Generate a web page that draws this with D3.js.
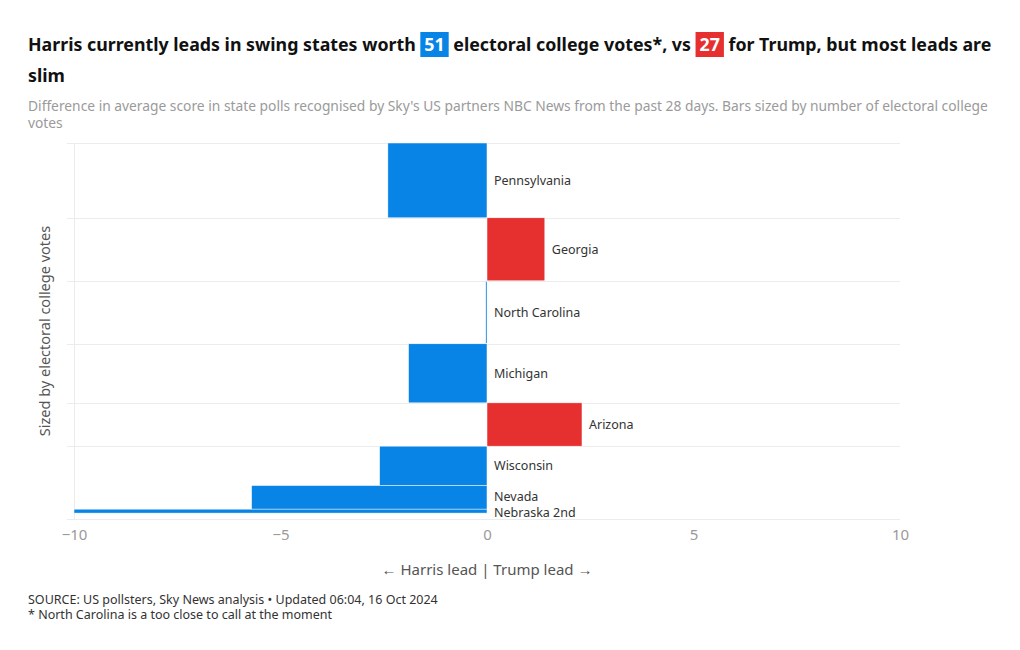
<!DOCTYPE html>
<html>
<head>
  <meta charset="utf-8" />
  <title>Swing state leads</title>
  <script src="https://cdn.jsdelivr.net/npm/d3@7"></script>
  <style>
    body { margin: 0; background: #fff; font-family: "Noto Sans", sans-serif; }
    #wrap { position: relative; width: 1020px; height: 650px; }
    #subtitle {
      position: absolute; left: 28px; top: 97px; width: 975px;
      font-size: 13.8px; line-height: 17px; color: #9a9a9a;
    }
    svg { position: absolute; left: 0; top: 0; }
  </style>
</head>
<body>
  <div id="wrap">
    <svg id="chart" width="1020" height="650"></svg>
    <div id="subtitle">Difference in average score in state polls recognised by Sky's US partners NBC News from the past 28 days. Bars sized by number of electoral college votes</div>
  </div>

  <script>
    // data
    const states = ["Pennsylvania", "Georgia", "North Carolina", "Michigan", "Arizona", "Wisconsin", "Nevada", "Nebraska 2nd"];
    const lead = [-2.4, 1.4, -0.03, -1.9, 2.3, -2.6, -5.7, -10];
    const votes = [19, 16, 16, 15, 11, 10, 6, 1];
    const xTicks = [-10, -5, 0, 5, 10];

    const harrisColor = "#0784e5";
    const trumpColor = "#e5302f";

    const svg = d3.select("#chart");

    // title with the vote count badges
    const harrisVotes = d3.sum(votes.filter((v, i) => lead[i] < 0 && states[i] != "North Carolina"));
    const trumpVotes = d3.sum(votes.filter((v, i) => lead[i] > 0));
    const badgeLayer = svg.append("g");
    const title = svg.append("text")
      .attr("x", 28).attr("y", 51)
      .attr("font-size", 17.8).attr("font-weight", 700).attr("fill", "#111");
    const parts = [
      { t: "Harris currently leads in swing states worth " },
      { t: String(harrisVotes), c: harrisColor },
      { t: " electoral college votes*, vs " },
      { t: String(trumpVotes), c: trumpColor },
      { t: " for Trump, but most leads are" }
    ];
    parts.forEach((p, i) => {
      const ts = title.append("tspan").text(p.t);
      if (p.c) ts.attr("dx", 4).attr("fill", "#fff");
      if (i > 0 && parts[i - 1].c) ts.attr("dx", 4);
      p.node = ts.node();
    });
    parts.filter(p => p.c).forEach(p => {
      const b = p.node.getBBox();
      badgeLayer.append("rect")
        .attr("x", b.x - 4).attr("y", 32)
        .attr("width", b.width + 8).attr("height", 25)
        .attr("fill", p.c);
    });
    svg.append("text")
      .attr("x", 28).attr("y", 82)
      .attr("font-size", 17.8).attr("font-weight", 700).attr("fill", "#111")
      .text("slim");

    const rows = states.map((s, i) => ({
      state: s, lead: lead[i], votes: votes[i],
      start: d3.sum(votes.slice(0, i))
    }));
    const total = d3.sum(votes);

    const margin = { top: 143, left: 74, right: 120, bottom: 131 };
    const width = 1020 - margin.left - margin.right;
    const height = 650 - margin.top - margin.bottom;

    const g = svg.append("g").attr("transform", "translate(" + margin.left + "," + margin.top + ")");

    const x = d3.scaleLinear().domain([-10, 10]).range([0, width]);
    const y = d3.scaleLinear().domain([0, total + 1.5]).range([0, height]);

    // horizontal grid lines at bar boundaries
    const gridVals = rows.slice(0, 6).map(d => d.start).concat([total + 1.5]);
    g.selectAll("line.grid")
      .data(gridVals)
      .enter()
      .append("line")
      .attr("x1", -7)
      .attr("x2", width)
      .attr("y1", d => Math.round(y(d)) + 0.5)
      .attr("y2", d => Math.round(y(d)) + 0.5)
      .attr("stroke", "#ececec");

    g.append("line")
      .attr("x1", 0.5).attr("x2", 0.5)
      .attr("y1", 0).attr("y2", height)
      .attr("stroke", "#ececec");

    // bars
    g.selectAll("rect.bar")
      .data(rows)
      .enter()
      .append("rect")
      .attr("x", d => x(Math.min(0, d.lead)))
      .attr("y", d => y(d.start))
      .attr("width", d => Math.max(1, Math.abs(x(d.lead) - x(0))))
      .attr("height", d => y(d.votes) - y(0))
      .attr("fill", d => d.lead > 0 ? trumpColor : harrisColor)
      .attr("stroke", "#fff")
      .attr("stroke-width", 0.5);

    // state labels (Nevada and Nebraska 2nd sit tight, as in the original)
    g.selectAll("text.label")
      .data(rows)
      .enter()
      .append("text")
      .attr("x", d => x(Math.max(0, d.lead)) + 7)
      .attr("y", d => y(d.start + d.votes / 2) + (d.state == "Nevada" ? -1 : d.state == "Nebraska 2nd" ? 1 : 0))
      .attr("dy", "0.35em")
      .attr("font-size", 12.5)
      .attr("fill", "#333")
      .text(d => d.state);

    // x axis
    const xAxis = g.append("g")
      .attr("transform", "translate(0," + height + ")")
      .call(d3.axisBottom(x).tickValues(xTicks).tickSize(0).tickPadding(10).tickFormat(d => d < 0 ? "\u2212" + Math.abs(d) : d));
    xAxis.select(".domain").remove();
    xAxis.selectAll("text")
      .attr("font-family", "Noto Sans, sans-serif")
      .attr("font-size", 15)
      .attr("fill", "#9a9a9a");

    g.append("text")
      .attr("x", x(0))
      .attr("y", height + 56)
      .attr("text-anchor", "middle")
      .attr("font-size", 15)
      .attr("fill", "#555")
      .text("\u2190 Harris lead | Trump lead \u2192");

    svg.append("text")
      .attr("transform", "translate(50," + (margin.top + height / 2) + ") rotate(-90)")
      .attr("text-anchor", "middle")
      .attr("font-size", 14.5)
      .attr("fill", "#555")
      .text("Sized by electoral college votes");

    // footnotes
    svg.append("text")
      .attr("x", 28).attr("y", 604)
      .attr("font-size", 12.5).attr("fill", "#333")
      .text("SOURCE: US pollsters, Sky News analysis \u2022 Updated 06:04, 16 Oct 2024");
    svg.append("text")
      .attr("x", 28).attr("y", 619)
      .attr("font-size", 12.5).attr("fill", "#333")
      .text("* North Carolina is a too close to call at the moment");
  </script>
</body>
</html>
